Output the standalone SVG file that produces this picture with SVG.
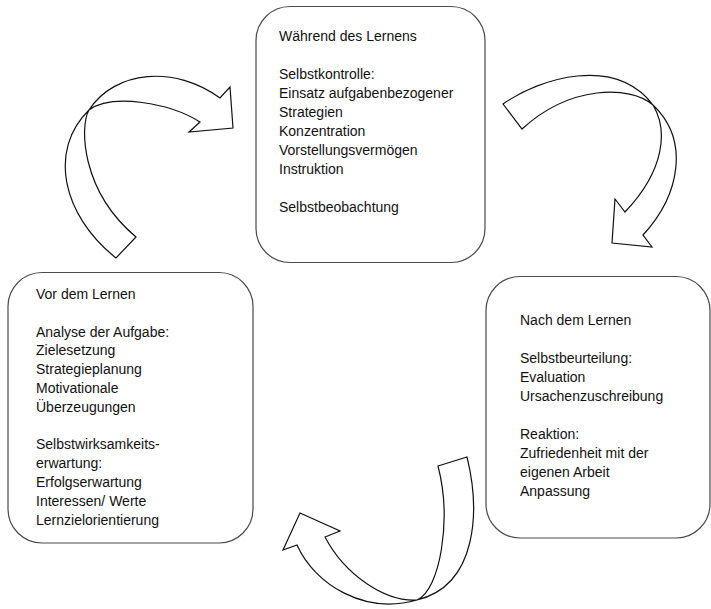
<svg xmlns="http://www.w3.org/2000/svg" width="711" height="609" viewBox="0 0 711 609">
<style>
.box{fill:#fff;stroke:#4a4a4a;stroke-width:1.2}
.arr{fill:none;stroke:#111;stroke-width:1.2;stroke-linejoin:miter}
text{font-family:"Liberation Sans",Arial,sans-serif;font-size:14px;fill:#111}
</style>
<rect width="711" height="609" fill="#fff"/>
<g id="connectors">
<path id="arrow-vor-waehrend" class="arr" d="M116,258 C62,215 48,150 89,110 C115,70 175,65 220,98 L230,87 L233,128 L189,132 L200,122 C170,103 112,93 89,110 C80,125 80,190 136,237 Z"/>
<path id="arrow-waehrend-nach" class="arr" d="M503,104 C540,78 615,55 653,105 C668,130 665,170 625,212 L615,199 L612,243 L652,247 L643,235 C680,195 690,140 653,105 C630,85 570,85 522,129 Z"/>
<path id="arrow-nach-vor" class="arr" d="M438,466 L467,457 C480,510 478,585 417,600 C385,602 345,575 325,537 L340,531 L300,513 L283,550 L297,545 C315,585 365,615 417,600 C440,590 452,520 438,466 Z"/>
</g>
<g id="node-waehrend">
<rect class="box" x="256" y="6.5" width="229" height="256" rx="34"/>
<text x="279" y="41">Während des Lernens</text>
<text x="279" y="79">Selbstkontrolle:</text>
<text x="279" y="98">Einsatz aufgabenbezogener</text>
<text x="279" y="117">Strategien</text>
<text x="279" y="136">Konzentration</text>
<text x="279" y="155">Vorstellungsvermögen</text>
<text x="279" y="174">Instruktion</text>
<text x="279" y="212">Selbstbeobachtung</text>
</g>
<g id="node-vor">
<rect class="box" x="8" y="272.5" width="245" height="270.5" rx="34"/>
<text x="36" y="299">Vor dem Lernen</text>
<text x="36" y="336.6">Analyse der Aufgabe:</text>
<text x="36" y="355.4">Zielesetzung</text>
<text x="36" y="374.2">Strategieplanung</text>
<text x="36" y="393">Motivationale</text>
<text x="36" y="411.8">Überzeugungen</text>
<text x="36" y="449.4">Selbstwirksamkeits-</text>
<text x="36" y="468.2">erwartung:</text>
<text x="36" y="487">Erfolgserwartung</text>
<text x="36" y="505.8">Interessen/ Werte</text>
<text x="36" y="524.6">Lernzielorientierung</text>
</g>
<g id="node-nach">
<rect class="box" x="486" y="276.5" width="224" height="261.5" rx="34"/>
<text x="520" y="325">Nach dem Lernen</text>
<text x="520" y="363">Selbstbeurteilung:</text>
<text x="520" y="382">Evaluation</text>
<text x="520" y="401">Ursachenzuschreibung</text>
<text x="520" y="439">Reaktion:</text>
<text x="520" y="458">Zufriedenheit mit der</text>
<text x="520" y="477">eigenen Arbeit</text>
<text x="520" y="496">Anpassung</text>
</g>
</svg>
